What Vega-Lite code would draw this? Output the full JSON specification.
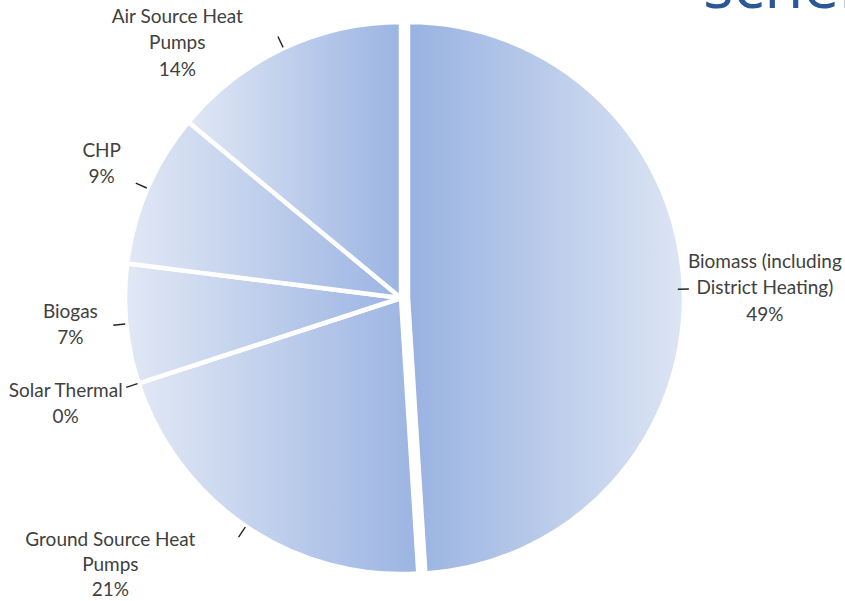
{
  "$schema": "https://vega.github.io/schema/vega-lite/v6.json",
  "width": 802,
  "height": 596,
  "autosize": {"type": "none"},
  "padding": {"left": 0, "top": 0, "right": 43, "bottom": 5},
  "background": "white",
  "config": {
    "view": {"stroke": null},
    "text": {"font": "Lato", "fontSize": 19, "color": "#404040"}
  },
  "title": {
    "text": "schemes",
    "anchor": "start",
    "frame": "group",
    "orient": "top",
    "dx": 703,
    "offset": -82,
    "baseline": "alphabetic",
    "fontSize": 64,
    "font": "Open Sans",
    "fontWeight": "normal",
    "color": "#2b5797"
  },
  "data": {
    "values": [
      {"name": "Biomass", "label": "Biomass (including\nDistrict Heating)\n49%", "value": 49},
      {"name": "Ground Source", "label": "Ground Source Heat\nPumps\n21%", "value": 21},
      {"name": "Solar Thermal", "label": "Solar Thermal\n0%", "value": 0},
      {"name": "Biogas", "label": "Biogas\n7%", "value": 7},
      {"name": "CHP", "label": "CHP\n9%", "value": 9},
      {"name": "Air Source", "label": "Air Source Heat\nPumps\n14%", "value": 14}
    ]
  },
  "transform": [{"window": [{"op": "row_number", "as": "rank"}]}],
  "encoding": {
    "theta": {"field": "value", "type": "quantitative", "stack": true},
    "order": {"field": "rank", "type": "quantitative"}
  },
  "layer": [
    {
      "mark": {
        "type": "arc", "radius": 276, "stroke": "white", "strokeWidth": 4.5,
        "fill": {"gradient": "linear", "x1": 0, "x2": 1, "y1": 0, "y2": 0,
          "stops": [{"offset": 0, "color": "#e1e8f5"}, {"offset": 1, "color": "#9bb4e2"}]}
      },
      "encoding": {"opacity": {"condition": {"test": "datum.name === 'Biomass'", "value": 0}, "value": 1}}
    },
    {
      "mark": {
        "type": "arc", "radius": 276, "stroke": "white", "strokeWidth": 4.5, "xOffset": 7,
        "fill": {"gradient": "linear", "x1": 0, "x2": 1, "y1": 0, "y2": 0,
          "stops": [{"offset": 0, "color": "#98b2e1"}, {"offset": 1, "color": "#dde5f4"}]}
      },
      "encoding": {"opacity": {"condition": {"test": "datum.name === 'Biomass'", "value": 1}, "value": 0}}
    },
    {
      "mark": {"type": "arc", "radius": 289, "radius2": 277, "padAngle": 3.14, "filled": false, "stroke": "#262626", "strokeWidth": 1.4},
      "encoding": {"opacity": {"condition": {"test": "datum.name === 'Biomass'", "value": 0}, "value": 1}}
    },
    {
      "mark": {"type": "arc", "radius": 288, "radius2": 277, "padAngle": 3.14, "filled": false, "stroke": "#262626", "strokeWidth": 1.4},
      "encoding": {"opacity": {"condition": {"test": "datum.name === 'Biomass'", "value": 1}, "value": 0}}
    },
    {
      "mark": {"type": "text", "radius": 300, "align": "center", "baseline": "alphabetic", "lineBreak": "\n", "lineHeight": 26.5, "dx": 64, "dy": -21},
      "encoding": {"text": {"field": "label"}, "opacity": {"condition": {"test": "datum.name === 'Biomass'", "value": 1}, "value": 0}}
    },
    {
      "mark": {"type": "text", "radius": 300, "align": "center", "baseline": "alphabetic", "lineBreak": "\n", "lineHeight": 25, "dx": -122, "dy": 0},
      "encoding": {"text": {"field": "label"}, "opacity": {"condition": {"test": "datum.name === 'Ground Source'", "value": 1}, "value": 0}}
    },
    {
      "mark": {"type": "text", "radius": 300, "align": "center", "baseline": "alphabetic", "lineBreak": "\n", "lineHeight": 26, "dx": -50, "dy": 6},
      "encoding": {"text": {"field": "label"}, "opacity": {"condition": {"test": "datum.name === 'Solar Thermal'", "value": 1}, "value": 0}}
    },
    {
      "mark": {"type": "text", "radius": 300, "align": "center", "baseline": "alphabetic", "lineBreak": "\n", "lineHeight": 26, "dx": -32, "dy": -8},
      "encoding": {"text": {"field": "label"}, "opacity": {"condition": {"test": "datum.name === 'Biogas'", "value": 1}, "value": 0}}
    },
    {
      "mark": {"type": "text", "radius": 300, "align": "center", "baseline": "alphabetic", "lineBreak": "\n", "lineHeight": 26.5, "dx": -24, "dy": -22},
      "encoding": {"text": {"field": "label"}, "opacity": {"condition": {"test": "datum.name === 'CHP'", "value": 1}, "value": 0}}
    },
    {
      "mark": {"type": "text", "radius": 300, "align": "center", "baseline": "alphabetic", "lineBreak": "\n", "lineHeight": 26.5, "dx": -96, "dy": -4},
      "encoding": {"text": {"field": "label"}, "opacity": {"condition": {"test": "datum.name === 'Air Source'", "value": 1}, "value": 0}}
    }
  ]
}
